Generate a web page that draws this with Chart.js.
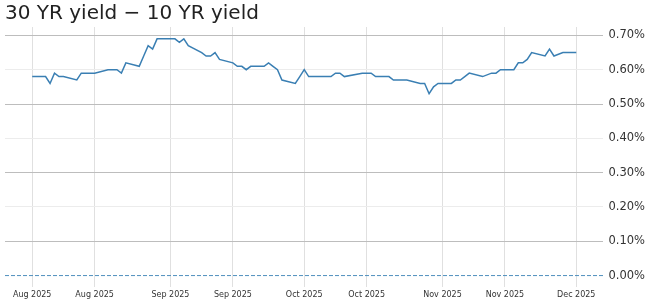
<!DOCTYPE html>
<html>
<head>
<meta charset="utf-8">
<script src="https://cdn.jsdelivr.net/npm/chart.js@4"></script>
<style>
  html, body { margin: 0; padding: 0; background: #fff; }
  #wrap { width: 652px; height: 305px; }
</style>
</head>
<body>
<div id="wrap"><canvas id="chart" width="652" height="305"></canvas></div>
<script>
// trading days and the 30Y - 10Y spread (percentage points)
const dates = [
  "2025-08-01","2025-08-04","2025-08-05","2025-08-06","2025-08-07","2025-08-08",
  "2025-08-11","2025-08-12","2025-08-13","2025-08-14","2025-08-15",
  "2025-08-18","2025-08-19","2025-08-20","2025-08-21","2025-08-22",
  "2025-08-25","2025-08-26","2025-08-27","2025-08-28","2025-08-29",
  "2025-09-02","2025-09-03","2025-09-04","2025-09-05",
  "2025-09-08","2025-09-09","2025-09-10","2025-09-11","2025-09-12",
  "2025-09-15","2025-09-16","2025-09-17","2025-09-18","2025-09-19",
  "2025-09-22","2025-09-23","2025-09-24","2025-09-25","2025-09-26",
  "2025-09-29","2025-09-30","2025-10-01","2025-10-02","2025-10-03",
  "2025-10-06","2025-10-07","2025-10-08","2025-10-09","2025-10-10",
  "2025-10-14","2025-10-15","2025-10-16","2025-10-17",
  "2025-10-20","2025-10-21","2025-10-22","2025-10-23","2025-10-24",
  "2025-10-27","2025-10-28","2025-10-29","2025-10-30","2025-10-31",
  "2025-11-03","2025-11-04","2025-11-05","2025-11-06","2025-11-07",
  "2025-11-10","2025-11-12","2025-11-13","2025-11-14",
  "2025-11-17","2025-11-18","2025-11-19","2025-11-20","2025-11-21",
  "2025-11-24","2025-11-25","2025-11-26","2025-11-28","2025-12-01"
];
const spread = [
  0.58, 0.58, 0.56, 0.59, 0.58, 0.58,
  0.57, 0.59, 0.59, 0.59, 0.59,
  0.60, 0.60, 0.60, 0.59, 0.62,
  0.61, 0.64, 0.67, 0.66, 0.69,
  0.69, 0.68, 0.69, 0.67,
  0.65, 0.64, 0.64, 0.65, 0.63,
  0.62, 0.61, 0.61, 0.60, 0.61,
  0.61, 0.62, 0.61, 0.60, 0.57,
  0.56, 0.58, 0.60, 0.58, 0.58,
  0.58, 0.58, 0.59, 0.59, 0.58,
  0.59, 0.59, 0.59, 0.58,
  0.58, 0.57, 0.57, 0.57, 0.57,
  0.56, 0.56, 0.53, 0.55, 0.56,
  0.56, 0.57, 0.57, 0.58, 0.59,
  0.58, 0.59, 0.59, 0.60,
  0.60, 0.62, 0.62, 0.63, 0.65,
  0.64, 0.66, 0.64, 0.65, 0.65
];
const tickDates = ["2025-08-01","2025-08-15","2025-09-01","2025-09-15","2025-10-01",
                   "2025-10-15","2025-11-01","2025-11-15","2025-12-01"];
const tickLabels = ["Aug 2025","Aug 2025","Sep 2025","Sep 2025","Oct 2025",
                    "Oct 2025","Nov 2025","Nov 2025","Dec 2025"];
const yTicks = [0, 0.1, 0.2, 0.3, 0.4, 0.5, 0.6, 0.7];

const DAY = 86400000;
const t0 = Date.parse(dates[0] + "T00:00:00Z");
const toDay = s => (Date.parse(s + "T00:00:00Z") - t0) / DAY;

const xs = dates.map(toDay);
const xSpan = xs[xs.length - 1] - xs[0];
const xMin = xs[0] - 0.05 * xSpan;
const xMax = xs[xs.length - 1] + 0.05 * xSpan;
const yTop = Math.max(...spread);
const yMin = 0 - 0.05 * yTop;
const yMax = yTop + 0.05 * yTop;

const FONT = "'DejaVu Sans', sans-serif";

new Chart(document.getElementById("chart"), {
  type: "line",
  data: {
    datasets: [
      {
        data: xs.map((x, i) => ({ x: x, y: spread[i] })),
        borderColor: "#3a7fb3",
        borderWidth: 1.5,
        pointRadius: 0,
        tension: 0,
        fill: false
      },
      {
        // zero reference line
        data: [{ x: xMin, y: 0 }, { x: xMax, y: 0 }],
        borderColor: "#4f8fbd",
        borderWidth: 1,
        borderDash: [4, 2],
        pointRadius: 0,
        fill: false
      }
    ]
  },
  options: {
    responsive: false,
    animation: false,
    devicePixelRatio: 1,
    layout: { padding: { left: 5, right: 2, top: 0, bottom: 2 } },
    plugins: {
      legend: { display: false },
      tooltip: { enabled: false },
      title: {
        display: true,
        text: "30 YR yield \u2212 10 YR yield",
        align: "start",
        color: "#222",
        font: { family: FONT, size: 20, weight: "normal" },
        padding: { top: 2, bottom: 1 }
      }
    },
    scales: {
      x: {
        type: "linear",
        min: xMin,
        max: xMax,
        afterBuildTicks: s => { s.ticks = tickDates.map(d => ({ value: toDay(d) })); },
        ticks: {
          autoSkip: false,
          maxRotation: 0,
          padding: 3,
          color: "#333",
          font: { family: FONT, size: 8 },
          callback: (v, i) => tickLabels[i]
        },
        grid: { color: "#e0e0e0", lineWidth: 1, drawTicks: false },
        border: { display: false }
      },
      y: {
        position: "right",
        min: yMin,
        max: yMax,
        afterBuildTicks: s => { s.ticks = yTicks.map(v => ({ value: v })); },
        ticks: {
          padding: 5,
          color: "#333",
          font: { family: FONT, size: 11.5 },
          callback: v => v.toFixed(2) + "%"
        },
        grid: {
          drawTicks: false,
          lineWidth: 1,
          color: c => {
            const k = Math.round(c.tick.value * 10);
            if (k === 0) return "rgba(0,0,0,0)";
            return k % 2 === 1 ? "#bdbdbd" : "#ececec";
          }
        },
        border: { display: false }
      }
    }
  }
});
</script>
</body>
</html>
